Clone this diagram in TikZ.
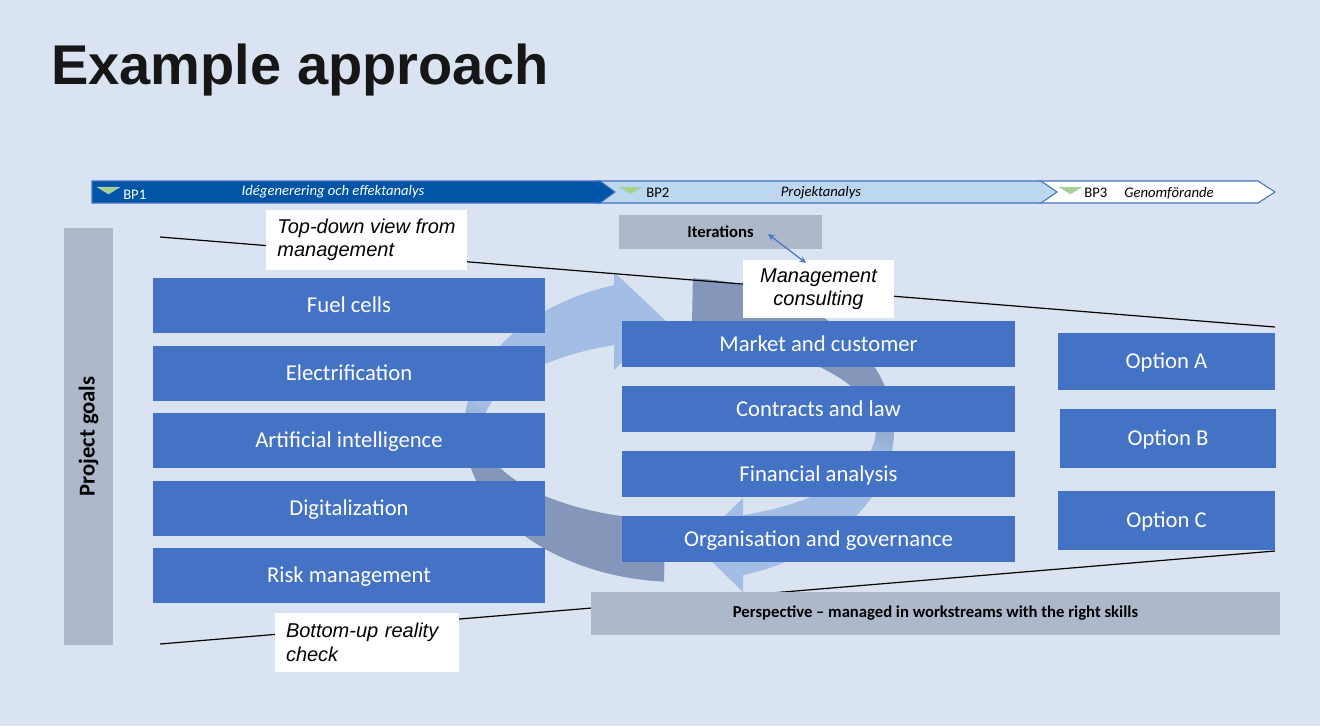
\documentclass[tikz,border=0pt]{standalone}
\usepackage{fontspec}
\setmainfont{Carlito}
\newfontfamily\arialf{Liberation Sans}
\usetikzlibrary{arrows.meta}
\definecolor{bg}{HTML}{DAE3F1}
\definecolor{boxblue}{HTML}{4472C4}
\definecolor{greybox}{HTML}{ADB9CA}
\definecolor{ringlight}{RGB}{164,189,228}
\definecolor{ringdark}{RGB}{132,151,186}
\definecolor{bpdark}{HTML}{0054A6}
\definecolor{bplight}{HTML}{BDD7EE}
\definecolor{bpedge}{HTML}{4472C4}
\definecolor{bpgreen}{HTML}{A9D18E}
\definecolor{titlecol}{HTML}{161616}

\newcommand\boxnode[7]{\node[#2, minimum width={(#5-#3)*0.75pt}, minimum height={(#6-#4)*0.75pt}] (#1) at ({(#3+#5)/2},{(#4+#6)/2}) {#7};}
\newcommand\ringseg[3]{\fill[#3] ({679+215*cos(#1)},{430+152*sin(#1)}) arc[start angle=#1, end angle=#2, x radius=215, y radius=152] -- ({679+197*cos(#2)},{430+90*sin(#2)}) arc[start angle=#2, end angle=#1, x radius=197, y radius=90] -- cycle;}

\tikzset{
  bluebox/.style={fill=boxblue, draw=none, inner sep=0pt, text=white, font=\fontsize{17}{20}\selectfont, text height=12.5pt, text depth=1.5pt},
  greyrect/.style={fill=greybox, draw=none, inner sep=0pt, text=black, font=\bfseries\fontsize{12.5}{15}\selectfont},
  whitelabel/.style={fill=white, draw=none, inner sep=0pt, align=left, text=black, font=\arialf\itshape\fontsize{15}{17.5}\selectfont},
  guideline/.style={draw=black, line width=0.9pt},
  bpbar/.style={draw=bpedge, line width=0.8pt},
  bptri/.style={fill=bpgreen, draw=bpedge!40, line width=0.3pt},
  bptext/.style={inner sep=0pt, font=\fontsize{11}{13}\selectfont},
}

\begin{document}
\begin{tikzpicture}[x=0.75pt, y=-0.75pt]
\useasboundingbox (0,0) rectangle (1320,726);
\fill[bg] (0,0) rectangle (1320,726);

% title
\node[anchor=base west, inner sep=0pt, text=titlecol, font=\arialf\bfseries\fontsize{42}{50}\selectfont] (title) at (51,84) {Example approach};

% phase bar
\filldraw[bpbar, fill=white] (1040,181) -- (1258,181) -- (1275,192) -- (1258,203) -- (1040,203) -- (1056,192) -- cycle;
\filldraw[bpbar, fill=bplight] (598,181) -- (1041,181) -- (1057,192) -- (1041,203) -- (598,203) -- cycle;
\filldraw[bpbar, fill=bpdark] (92,181) -- (600,181) -- (615,192) -- (600,203) -- (92,203) -- cycle;
\filldraw[bptri] (97,187) -- (120,187) -- (108.5,194) -- cycle;
\filldraw[bptri] (619,187) -- (642,187) -- (630.5,194) -- cycle;
\filldraw[bptri] (1059,187) -- (1082,187) -- (1070.5,194) -- cycle;
\node[bptext, anchor=west, text=white] (bp1) at (123,195) {BP1};
\node[bptext, anchor=center, text=white, font=\itshape\fontsize{11}{13}\selectfont] (ph1) at (333,192) {Idégenerering och effektanalys};
\node[bptext, anchor=west, text=black] (bp2) at (646,193) {BP2};
\node[bptext, anchor=center, text=black, font=\itshape\fontsize{11}{13}\selectfont] (ph2) at (821,193) {Projektanalys};
\node[bptext, anchor=west, text=black] (bp3) at (1084,193) {BP3};
\node[bptext, anchor=west, text=black, font=\itshape\fontsize{11}{13}\selectfont] (ph3) at (1124,193) {Genomförande};

% cycle arrows
\ringseg{94}{168.5}{ringdark}
\foreach \a in {168,170,...,190} {
  \pgfmathsetmacro\p{(\a-168)/24*100}
  \pgfmathsetmacro\b{\a+2.5}
  \ringseg{\a}{\b}{ringlight!\p!ringdark}
}
\ringseg{192}{253}{ringlight}
\fill[ringlight] (614,272) -- (666,321) -- (614,370) -- cycle;

\ringseg{273.7}{345.5}{ringdark}
\foreach \a in {345,347,...,371} {
  \pgfmathsetmacro\p{(\a-345)/28*100}
  \pgfmathsetmacro\b{\a+2.5}
  \ringseg{\a}{\b}{ringlight!\p!ringdark}
}
\ringseg{373}{433}{ringlight}
\fill[ringlight] (743,498) -- (695,545) -- (743,592) -- cycle;

% guide lines
\coordinate (tl1) at (160,237);
\coordinate (tl2) at (1275,327);
\coordinate (bl1) at (160,644);
\coordinate (bl2) at (1275,551);
\draw[guideline] (tl1) -- (tl2);
\draw[guideline] (bl1) -- (bl2);

% grey bars
\node[greyrect, rotate=90, minimum width={417*0.75pt}, minimum height={49*0.75pt}, font=\bfseries\fontsize{17}{20}\selectfont] (goals) at (88.5,436.5) {Project goals};
\boxnode{iter}{greyrect}{619}{215}{822}{249}{Iterations}
\boxnode{persp}{greyrect}{591}{592}{1280}{635}{Perspective – managed in workstreams with the right skills}

% left column
\boxnode{fuel}{bluebox}{153}{278}{545}{333}{Fuel cells}
\boxnode{elec}{bluebox}{153}{346}{545}{401}{Electrification}
\boxnode{ai}{bluebox}{153}{413}{545}{468}{Artificial intelligence}
\boxnode{dig}{bluebox}{153}{481}{545}{536}{Digitalization}
\boxnode{risk}{bluebox}{153}{548}{545}{603}{Risk management}

% middle column
\boxnode{mkt}{bluebox}{622}{321}{1015}{367}{Market and customer}
\boxnode{con}{bluebox}{622}{386}{1015}{432}{Contracts and law}
\boxnode{fin}{bluebox}{622}{451}{1015}{497}{Financial analysis}
\boxnode{org}{bluebox}{622}{516}{1015}{562}{Organisation and governance}

% options
\boxnode{optA}{bluebox}{1058}{333}{1275}{390}{Option A}
\boxnode{optB}{bluebox}{1060}{409}{1276}{468}{Option B}
\boxnode{optC}{bluebox}{1058}{491}{1275}{550}{Option C}

% white labels
\boxnode{td}{whitelabel}{266}{210}{467}{270}{Top-down view from\\management}
\boxnode{mc}{whitelabel, align=center}{743}{260}{894}{318}{Management\\consulting}
\boxnode{bu}{whitelabel, text width=121.5pt}{275}{613}{459}{672}{Bottom-up reality\\check}

% iteration arrow
\coordinate (ia) at (768,234);
\coordinate (ib) at (806,263);
\draw[boxblue, line width=0.9pt, {Stealth[length=5pt,width=4.5pt]}-{Stealth[length=5pt,width=4.5pt]}] (ia) -- (ib);
\end{tikzpicture}
\end{document}
